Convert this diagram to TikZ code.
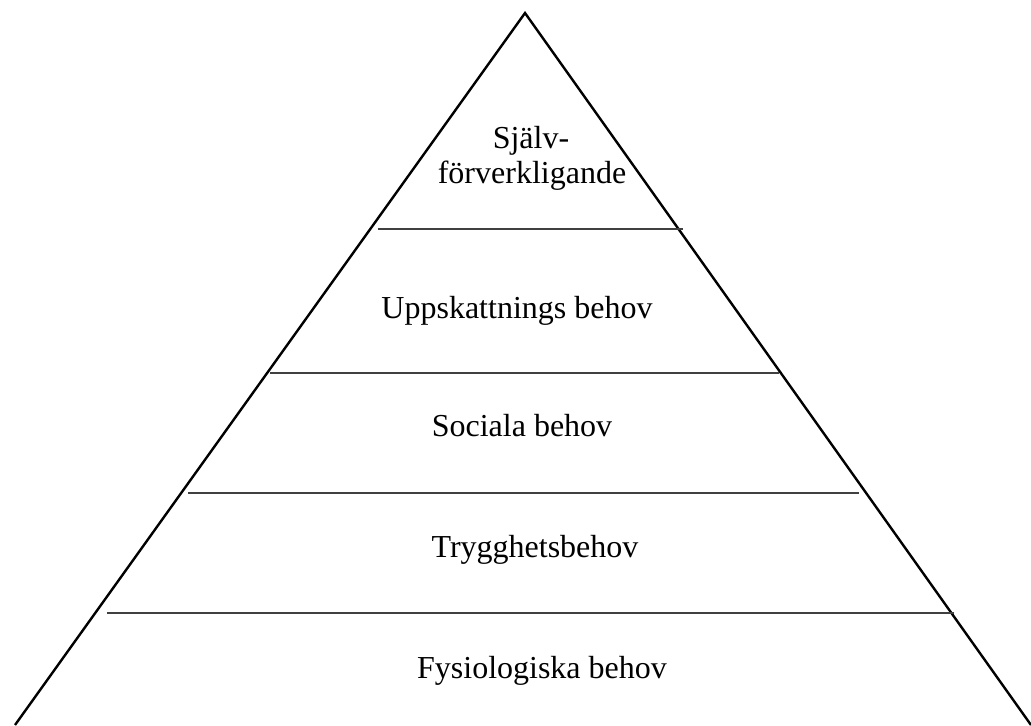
\documentclass[tikz,border=0pt]{standalone}
\usepackage{fontspec}
\setmainfont{Liberation Serif}
\usetikzlibrary{positioning}

\begin{document}
\begin{tikzpicture}[
  x=0.5pt, y=-0.5pt,
  side/.style={draw=black, line width=1.2pt},
  level/.style={draw=black!75, line width=0.6pt},
  label/.style={anchor=base, font=\fontsize{16}{20}\selectfont, inner sep=0pt}
]
\useasboundingbox (0,0) rectangle (1031,725);

% outline
\coordinate (top) at (525,13);
\coordinate (bl) at (15,725);
\coordinate (br) at (1031,725);
\draw[side] (bl) -- (top) -- (br);

% levels
\coordinate (l1a) at (378,229); \coordinate (l1b) at (683,229);
\coordinate (l2a) at (270,373); \coordinate (l2b) at (779,373);
\coordinate (l3a) at (188,493); \coordinate (l3b) at (859,493);
\coordinate (l4a) at (107,613); \coordinate (l4b) at (954,613);
\draw[level] (l1a) -- (l1b);
\draw[level] (l2a) -- (l2b);
\draw[level] (l3a) -- (l3b);
\draw[level] (l4a) -- (l4b);

% texts
\node[label] (self1) at (531,148) {Själv-};
\node[label] (self2) at (532,183) {förverkligande};
\node[label] (esteem) at (517,318) {Uppskattnings behov};
\node[label] (social) at (522,436) {Sociala behov};
\node[label] (safety) at (535,557) {Trygghetsbehov};
\node[label] (physio) at (542,678) {Fysiologiska behov};

\end{tikzpicture}
\end{document}
